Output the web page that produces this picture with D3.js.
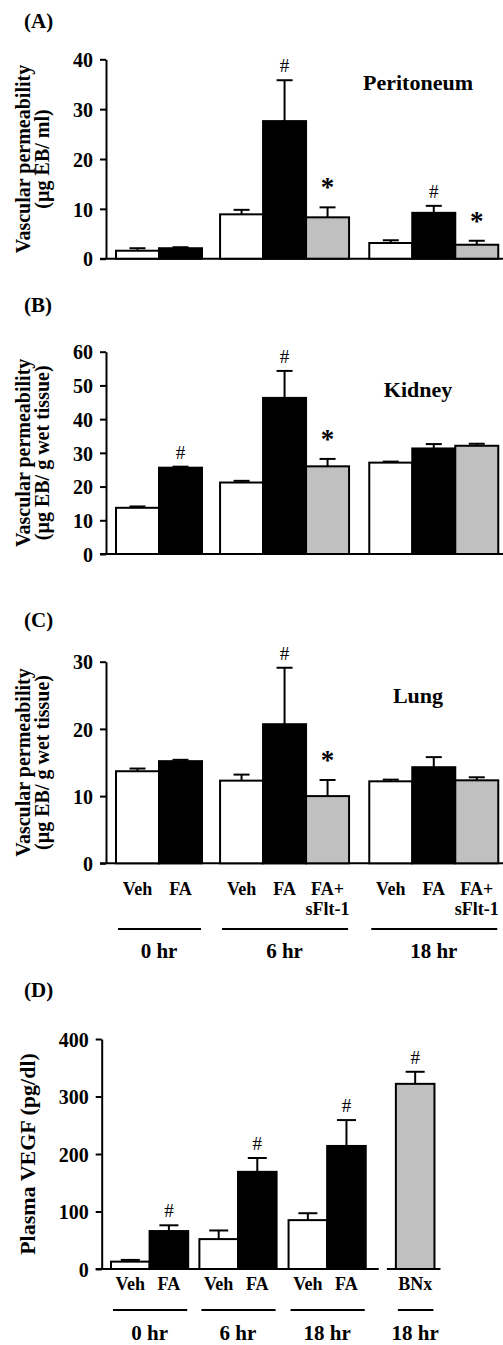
<!DOCTYPE html>
<html>
<head>
<meta charset="utf-8">
<script src="https://cdn.jsdelivr.net/npm/d3@7"></script>
<style>
  body { margin: 0; background: #fff; }
  svg text { font-family: "Liberation Serif", "Times New Roman", serif; font-weight: bold; fill: #000; }
</style>
</head>
<body>
<div id="chart"></div>
<script>
/****** DATA ******/
// panels A-C : time points and treatments
var timesABC = ["0 hr", "6 hr", "18 hr"];
var treatABC = [["Veh", "FA"], ["Veh", "FA", "FA+|sFlt-1"], ["Veh", "FA", "FA+|sFlt-1"]];

// (A) peritoneum, µg EB/ml
var peritoneumMean = [[1.6, 2.1], [8.9, 27.6, 8.3], [3.15, 9.2, 2.8]];
var peritoneumErr  = [[0.5, 0.2], [0.9, 8.2, 2.0], [0.55, 1.4, 0.8]];
var peritoneumSig  = [["", ""], ["", "#", "*"], ["", "#", "*"]];

// (B) kidney, µg EB/g wet tissue
var kidneyMean = [[13.7, 25.6], [21.2, 46.3, 26.0], [27.1, 31.3, 32.1]];
var kidneyErr  = [[0.4, 0.3], [0.5, 8.0, 2.2], [0.3, 1.3, 0.6]];
var kidneySig  = [["", "#"], ["", "#", "*"], ["", "", ""]];

// (C) lung, µg EB/g wet tissue
var lungMean = [[13.7, 15.2], [12.3, 20.7, 10.0], [12.2, 14.3, 12.35]];
var lungErr  = [[0.4, 0.2], [0.9, 8.4, 2.4], [0.25, 1.5, 0.45]];
var lungSig  = [["", ""], ["", "#", "*"], ["", "", ""]];

// (D) plasma VEGF, pg/dl
var timesD = ["0 hr", "6 hr", "18 hr", "18 hr"];
var treatD = [["Veh", "FA"], ["Veh", "FA"], ["Veh", "FA"], ["BNx"]];
var vegfMean = [[12.8, 66], [52, 169], [85, 214], [322]];
var vegfErr  = [[3, 10], [15, 24], [12, 45], [21]];
var vegfSig  = [["", "#"], ["", "#"], ["", "#"], ["#"]];

var fillFor = {"Veh": "#ffffff", "FA": "#000000", "FA+|sFlt-1": "#c0c0c0", "BNx": "#c0c0c0"};

var svg = d3.select("#chart")
  .append("svg")
  .attr("width", 503)
  .attr("height", 1345);

function drawPanel(p)
{
  var g = svg.append("g");

  // lay bars out on a slot scale (1 slot = 1 bar, gaps between groups)
  var bars = [], spans = [], s = 0;
  p.groups.forEach(function(name, gi) {
    if (gi > 0) s += p.gaps[gi - 1];
    var start = s;
    p.treat[gi].forEach(function(t, bi) {
      bars.push({slot: s, treat: t, mean: p.mean[gi][bi], err: p.err[gi][bi], sig: p.sig[gi][bi]});
      s += 1;
    });
    spans.push({name: name, start: start, end: s});
  });

  var x = d3.scaleLinear().domain([0, s]).range([p.x0, p.x0 + s * p.barW]);
  var y = d3.scaleLinear().domain([0, p.yMax]).range([p.bottom, p.top]);

  // y axis
  var ax = g.append("g")
    .attr("transform", "translate(" + p.axisX + ",0)")
    .call(d3.axisLeft(y).tickValues(p.ticks).tickSize(6).tickSizeOuter(0).tickPadding(7));
  ax.select(".domain").attr("stroke-width", 2);
  ax.selectAll(".tick line").attr("stroke-width", 2);
  ax.selectAll(".tick text")
    .attr("dy", "0.36em")
    .style("font-size", "20px")
    .style("font-family", "'Liberation Serif'");

  // baseline (possibly split)
  p.baseline(x).forEach(function(seg) {
    g.append("line")
      .attr("x1", seg[0]).attr("x2", seg[1])
      .attr("y1", y(0)).attr("y2", y(0))
      .attr("stroke", "#000").attr("stroke-width", 2);
  });

  // bars
  g.selectAll("rect.bar")
    .data(bars)
    .enter()
    .append("rect")
      .attr("class", "bar")
      .attr("x", function(d) { return x(d.slot); })
      .attr("width", p.barW)
      .attr("y", function(d) { return y(d.mean); })
      .attr("height", function(d) { return y(0) - y(d.mean); })
      .attr("fill", function(d) { return fillFor[d.treat]; })
      .attr("stroke", "#000")
      .attr("stroke-width", 2);

  // error bars (upper only)
  var eb = g.selectAll("g.err").data(bars).enter().append("g").attr("class", "err");
  eb.append("line")
    .attr("x1", function(d) { return x(d.slot + 0.5); })
    .attr("x2", function(d) { return x(d.slot + 0.5); })
    .attr("y1", function(d) { return y(d.mean); })
    .attr("y2", function(d) { return y(d.mean + d.err); })
    .attr("stroke", "#000").attr("stroke-width", 2);
  eb.append("line")
    .attr("x1", function(d) { return x(d.slot + 0.5) - p.cap / 2; })
    .attr("x2", function(d) { return x(d.slot + 0.5) + p.cap / 2; })
    .attr("y1", function(d) { return y(d.mean + d.err); })
    .attr("y2", function(d) { return y(d.mean + d.err); })
    .attr("stroke", "#000").attr("stroke-width", 2);

  // significance marks
  g.selectAll("text.sig")
    .data(bars.filter(function(d) { return d.sig; }))
    .enter()
    .append("text")
      .attr("class", "sig")
      .attr("text-anchor", "middle")
      .attr("x", function(d) { return x(d.slot + 0.5); })
      .attr("y", function(d) { return y(d.mean + d.err) - (d.sig == "#" ? 8 : 11); })
      .style("font-size", function(d) { return d.sig == "#" ? "19px" : "27px"; })
      .style("font-weight", function(d) { return d.sig == "#" ? "normal" : "bold"; })
      .text(function(d) { return d.sig; });

  // treatment labels under the axis
  if (p.labelY) {
    bars.forEach(function(d) {
      d.treat.split("|").forEach(function(line, i) {
        g.append("text")
          .attr("text-anchor", "middle")
          .attr("x", x(d.slot + 0.5))
          .attr("y", p.labelY + i * 20)
          .style("font-size", "18px")
          .text(line);
      });
    });
    spans.forEach(function(sp) {
      g.append("line")
        .attr("x1", x(sp.start) + 2).attr("x2", x(sp.end) - 1)
        .attr("y1", p.lineY).attr("y2", p.lineY)
        .attr("stroke", "#000").attr("stroke-width", 2);
      g.append("text")
        .attr("text-anchor", "middle")
        .attr("x", (x(sp.start) + x(sp.end)) / 2)
        .attr("y", p.groupY)
        .style("font-size", "21px")
        .text(sp.name);
    });
  }

  /****** TITLES ******/
  p.title.forEach(function(line, i) {
    g.append("text")
      .attr("transform", "translate(" + p.titleX[i] + "," + (p.top + p.bottom) / 2 + ") rotate(-90)")
      .attr("text-anchor", "middle")
      .style("font-size", p.titleSize + "px")
      .text(line);
  });

  g.append("text")
    .attr("x", 24).attr("y", p.letterY)
    .style("font-size", "21px")
    .text(p.letter);

  if (p.organ) {
    g.append("text")
      .attr("text-anchor", "middle")
      .attr("x", 418).attr("y", p.organY)
      .style("font-size", "22px")
      .text(p.organ);
  }
}

function fullBaseline(axisX) {
  return function(x) { return [[axisX - 6, 503]]; };
}

drawPanel({
  letter: "(A)", letterY: 28, organ: "Peritoneum", organY: 90,
  groups: timesABC, treat: treatABC, gaps: [0.42, 0.47],
  mean: peritoneumMean, err: peritoneumErr, sig: peritoneumSig,
  x0: 116, barW: 43, cap: 16, axisX: 106,
  top: 59.3, bottom: 258.7, yMax: 40, ticks: [0, 10, 20, 30, 40],
  baseline: fullBaseline(106),
  title: ["Vascular permeability", "(µg EB/ ml)"], titleX: [30, 49], titleSize: 20
});

drawPanel({
  letter: "(B)", letterY: 312, organ: "Kidney", organY: 397,
  groups: timesABC, treat: treatABC, gaps: [0.42, 0.47],
  mean: kidneyMean, err: kidneyErr, sig: kidneySig,
  x0: 116, barW: 43, cap: 16, axisX: 106,
  top: 351.7, bottom: 554, yMax: 60, ticks: [0, 10, 20, 30, 40, 50, 60],
  baseline: fullBaseline(106),
  title: ["Vascular permeability", "(µg EB/ g wet tissue)"], titleX: [30, 49], titleSize: 20
});

drawPanel({
  letter: "(C)", letterY: 627, organ: "Lung", organY: 703,
  groups: timesABC, treat: treatABC, gaps: [0.42, 0.47],
  mean: lungMean, err: lungErr, sig: lungSig,
  x0: 116, barW: 43, cap: 16, axisX: 106,
  top: 661.7, bottom: 863.3, yMax: 30, ticks: [0, 10, 20, 30],
  baseline: fullBaseline(106),
  labelY: 895, lineY: 929, groupY: 958,
  title: ["Vascular permeability", "(µg EB/ g wet tissue)"], titleX: [30, 49], titleSize: 20
});

drawPanel({
  letter: "(D)", letterY: 997,
  groups: timesD, treat: treatD, gaps: [0.29, 0.31, 0.78],
  mean: vegfMean, err: vegfErr, sig: vegfSig,
  x0: 111, barW: 38.6, cap: 19, axisX: 101.7,
  top: 1039, bottom: 1269, yMax: 400, ticks: [0, 100, 200, 300, 400],
  baseline: function(x) { return [[95.7, x(6.6) + 13], [x(7.38) - 9, x(8.38) + 6]]; },
  labelY: 1290, lineY: 1310, groupY: 1340,
  title: ["Plasma VEGF (pg/dl)"], titleX: [35], titleSize: 22
});
</script>
</body>
</html>
